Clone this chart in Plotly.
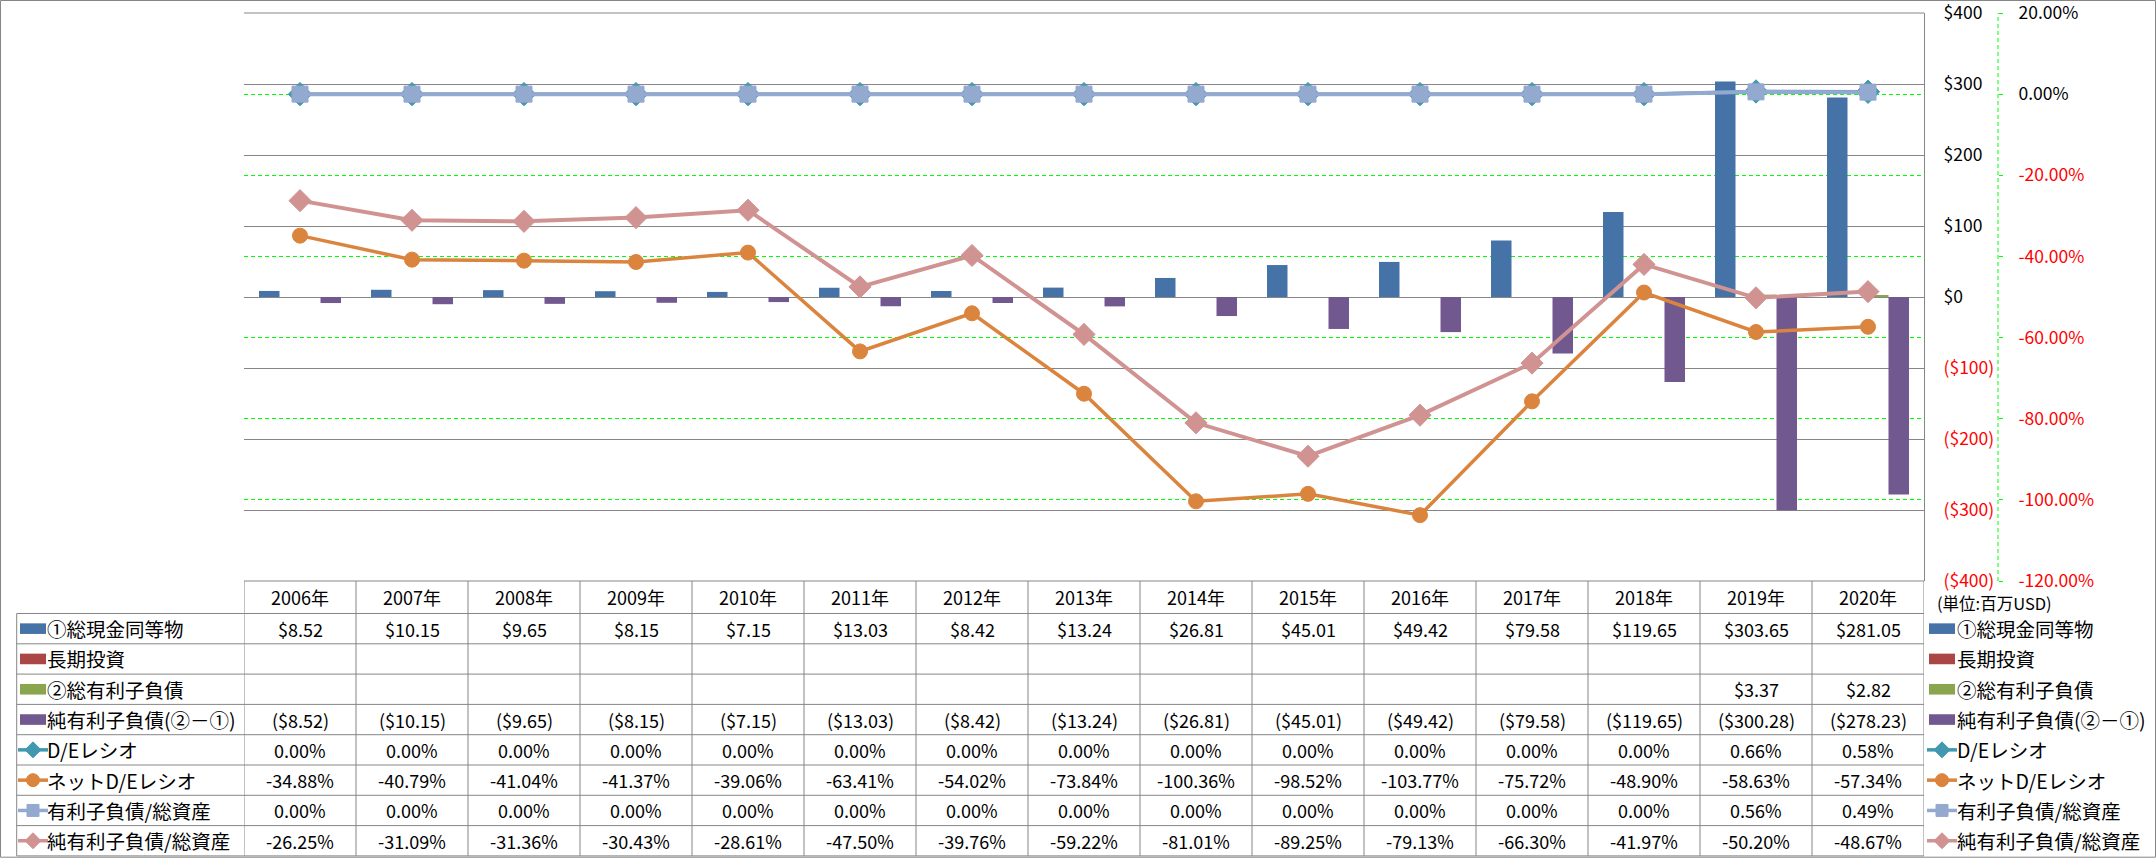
import plotly.graph_objects as go

# ---------------- data ----------------
years = ["2006年", "2007年", "2008年", "2009年", "2010年", "2011年", "2012年", "2013年",
         "2014年", "2015年", "2016年", "2017年", "2018年", "2019年", "2020年"]

cash = [8.52, 10.15, 9.65, 8.15, 7.15, 13.03, 8.42, 13.24, 26.81, 45.01, 49.42, 79.58, 119.65, 303.65, 281.05]
long_inv = [None, None, None, None, None, None, None, None, None, None, None, None, None, None, None]
debt = [None, None, None, None, None, None, None, None, None, None, None, None, None, 3.37, 2.82]
net_debt = [-8.52, -10.15, -9.65, -8.15, -7.15, -13.03, -8.42, -13.24, -26.81, -45.01, -49.42, -79.58, -119.65, -300.28, -278.23]

de_ratio = [0.00, 0.00, 0.00, 0.00, 0.00, 0.00, 0.00, 0.00, 0.00, 0.00, 0.00, 0.00, 0.00, 0.66, 0.58]
net_de_ratio = [-34.88, -40.79, -41.04, -41.37, -39.06, -63.41, -54.02, -73.84, -100.36, -98.52, -103.77, -75.72, -48.90, -58.63, -57.34]
debt_assets = [0.00, 0.00, 0.00, 0.00, 0.00, 0.00, 0.00, 0.00, 0.00, 0.00, 0.00, 0.00, 0.00, 0.56, 0.49]
net_debt_assets = [-26.25, -31.09, -31.36, -30.43, -28.61, -47.50, -39.76, -59.22, -81.01, -89.25, -79.13, -66.30, -41.97, -50.20, -48.67]

bar_names = ["①総現金同等物", "長期投資", "②総有利子負債", "純有利子負債(②－①)"]
line_names = ["D/Eレシオ", "ネットD/Eレシオ", "有利子負債/総資産", "純有利子負債/総資産"]

primary_ticks = [400, 300, 200, 100, 0, -100, -200, -300, -400]
secondary_ticks = [20, 0, -20, -40, -60, -80, -100, -120]
unit_label = "(単位:百万USD)"

# ---------------- styles ----------------
FONT = "Noto Sans CJK JP"
BAR_COLORS = ["#4572A7", "#AA4643", "#89A54E", "#71588F"]
LINE_COLORS = ["#4198AF", "#DB843D", "#93A9CF", "#D19392"]
LINE_SYMBOLS = ["diamond", "circle", "square", "diamond"]
GRID = "#868686"
GREEN = "#00FF00"

W, H = 2156, 858
ML, MR, MT, MB = 244, 158, 13, 277
PW = W - ML - MR          # paper width (to secondary axis)
PH = H - MT - MB
PLOT_RIGHT = 1924
XD = (PLOT_RIGHT - ML) / PW

def X(px):
    return (px - ML) / PW

def Y(py):
    return 1 - (py - MT) / PH

HEADER_TOP = H - MB
ROW_TOP = 613.5
ROW_H = 30.3
TABLE_LEFT = 16.7

def money(v):
    if v is None:
        return ""
    if v < 0:
        return "(${:,.2f})".format(-v)
    return "${:,.2f}".format(v)

def pct(v):
    return "" if v is None else "{:.2f}%".format(v)

def red(s):
    return "<span style='color:#FF0000'>" + s + "</span>"

fig = go.Figure()

# bars (4 clustered slots)
slot = 20.5 / 112
bar_series = [cash, long_inv, debt, net_debt]
for k, (name, vals, col) in enumerate(zip(bar_names, bar_series, BAR_COLORS)):
    fig.add_trace(go.Bar(x=years, y=vals, name=name, marker=dict(color=col, line=dict(width=0)),
                         width=slot, offset=-2 * slot + k * slot, yaxis="y", xaxis="x"))

# lines on secondary axis
line_series = [de_ratio, net_de_ratio, debt_assets, net_debt_assets]
marker_sizes = [18, 15, 16, 17]
line_widths = [3.5, 3.5, 4, 4]
for name, vals, col, sym, ms, lw in zip(line_names, line_series, LINE_COLORS, LINE_SYMBOLS, marker_sizes, line_widths):
    fig.add_trace(go.Scatter(x=years, y=vals, name=name, mode="lines+markers", yaxis="y2",
                             line=dict(color=col, width=lw),
                             marker=dict(symbol=sym, size=ms, color=col, line=dict(color=col, width=1))))

prim_text = ["${}".format(v) if v >= 0 else red("(${})".format(-v)) for v in primary_ticks]
sec_text = ["{:.2f}%".format(v) if v >= 0 else red("{:.2f}%".format(v)) for v in secondary_ticks]

fig.update_layout(
    width=W, height=H,
    margin=dict(l=ML, r=MR, t=MT, b=MB, pad=0, autoexpand=False),
    paper_bgcolor="white", plot_bgcolor="white",
    showlegend=False, barmode="overlay",
    font=dict(family=FONT, color="black"),
    xaxis=dict(domain=[0, XD], type="category", range=[-0.5, 14.5], showticklabels=False,
               showgrid=False, zeroline=False, showline=False, ticks="", automargin=False),
    yaxis=dict(range=[-400, 400], side="right", tickvals=primary_ticks, ticktext=prim_text,
               showgrid=True, gridcolor=GRID, gridwidth=1, zeroline=False,
               showline=True, linecolor=GRID, linewidth=1, ticks="",
               ticklabelstandoff=15, ticklabeloverflow="allow", automargin=False,
               tickfont=dict(size=17.5, family=FONT, color="black")),
    yaxis2=dict(range=[-120, 20], overlaying="y", side="right", anchor="free", position=1,
                tickvals=secondary_ticks, ticktext=sec_text,
                showgrid=True, gridcolor=GREEN, gridwidth=1, griddash="4px,3px",
                zeroline=False, showline=False, ticks="outside", ticklen=4, tickcolor=GREEN,
                tickwidth=1, ticklabelstandoff=12, ticklabeloverflow="allow", automargin=False,
                tickfont=dict(size=17.5, family=FONT, color="black")),
)

shapes = []
annotations = []

# top grid line of plot area
shapes.append(dict(type="line", xref="paper", yref="paper", x0=0, x1=XD, y0=1, y1=1,
                   line=dict(color=GRID, width=1), layer="below"))
# secondary axis dashed line
shapes.append(dict(type="line", xref="paper", yref="paper", x0=1, x1=1, y0=0, y1=1,
                   line=dict(color=GREEN, width=1, dash="4px,3px")))
# outer chart border
shapes.append(dict(type="rect", xref="paper", yref="paper", x0=X(0.5), x1=X(W - 0.5),
                   y0=Y(0.5), y1=Y(H - 0.8), line=dict(color=GRID, width=1)))

# table grid
TABLE_BOTTOM = ROW_TOP + 8 * ROW_H
shapes.append(dict(type="line", xref="paper", yref="paper", x0=X(ML), x1=X(PLOT_RIGHT),
                   y0=Y(HEADER_TOP), y1=Y(HEADER_TOP), line=dict(color=GRID, width=1)))
for k in range(9):
    yy = Y(ROW_TOP + k * ROW_H)
    shapes.append(dict(type="line", xref="paper", yref="paper", x0=X(TABLE_LEFT), x1=X(PLOT_RIGHT),
                       y0=yy, y1=yy, line=dict(color=GRID, width=1)))
for i in range(len(years) + 1):
    shapes.append(dict(type="line", xref="x", yref="paper", x0=i - 0.5, x1=i - 0.5,
                       y0=Y(HEADER_TOP), y1=Y(TABLE_BOTTOM), line=dict(color=GRID, width=1)))
shapes.append(dict(type="line", xref="paper", yref="paper", x0=X(TABLE_LEFT), x1=X(TABLE_LEFT),
                   y0=Y(ROW_TOP), y1=Y(TABLE_BOTTOM), line=dict(color=GRID, width=1)))

# header years
for i, yr in enumerate(years):
    annotations.append(dict(x=i, xref="x", y=Y((HEADER_TOP + ROW_TOP) / 2), yref="paper",
                            text=yr, showarrow=False, xanchor="center", yanchor="middle",
                            font=dict(size=18, family=FONT, color="black")))

row_values = [
    [money(v) for v in cash],
    [money(v) for v in long_inv],
    [money(v) for v in debt],
    [money(v) for v in net_debt],
    [pct(v) for v in de_ratio],
    [pct(v) for v in net_de_ratio],
    [pct(v) for v in debt_assets],
    [pct(v) for v in net_debt_assets],
]
for r, vals in enumerate(row_values):
    cy = Y(ROW_TOP + (r + 0.5) * ROW_H)
    for i, s in enumerate(vals):
        if s:
            annotations.append(dict(x=i, xref="x", y=cy, yref="paper", text=s, showarrow=False,
                                    xanchor="center", yanchor="middle",
                                    font=dict(size=18, family=FONT, color="black")))

def key(row, x_left, text_x):
    cy_px = ROW_TOP + (row + 0.5) * ROW_H
    cy = Y(cy_px)
    if row < 4:
        col = BAR_COLORS[row]
        shapes.append(dict(type="rect", xref="paper", yref="paper", x0=X(x_left + 2), x1=X(x_left + 28),
                           y0=Y(cy_px - 5.3), y1=Y(cy_px + 5.3), fillcolor=col, line=dict(width=0)))
        label = bar_names[row]
    else:
        j = row - 4
        col = LINE_COLORS[j]
        sym = LINE_SYMBOLS[j]
        shapes.append(dict(type="line", xref="paper", yref="paper", x0=X(x_left), x1=X(x_left + 30),
                           y0=cy, y1=cy, line=dict(color=col, width=3.5)))
        cx = X(x_left + 15)
        base = dict(xref="paper", yref="paper", xsizemode="pixel", ysizemode="pixel",
                    xanchor=cx, yanchor=cy, fillcolor=col, line=dict(color=col, width=1))
        if sym == "diamond":
            r = 8
            shapes.append(dict(type="path", path="M {} 0 L 0 {} L {} 0 L 0 {} Z".format(-r, r, r, -r), **base))
        elif sym == "circle":
            r = 6.5
            shapes.append(dict(type="circle", x0=-r, x1=r, y0=-r, y1=r, **base))
        else:
            r = 6
            shapes.append(dict(type="rect", x0=-r, x1=r, y0=-r, y1=r, **base))
        label = line_names[j]
    annotations.append(dict(x=X(text_x), xref="paper", y=cy, yref="paper", text=label,
                            showarrow=False, xanchor="left", yanchor="middle",
                            font=dict(size=19.5, family=FONT, color="black")))

for row in range(8):
    key(row, 18, 45)
    key(row, 1927, 1955)

annotations.append(dict(x=X(1935), xref="paper", y=Y(603), yref="paper",
                        text=unit_label, showarrow=False, xanchor="left", yanchor="middle",
                        font=dict(size=16.5, family=FONT, color="black")))

fig.update_layout(shapes=shapes, annotations=annotations)

fig.write_html("out.html", include_plotlyjs=True, full_html=True,
               config={"displayModeBar": False},
               post_script="document.body.style.margin='0';document.body.style.overflow='hidden';")
